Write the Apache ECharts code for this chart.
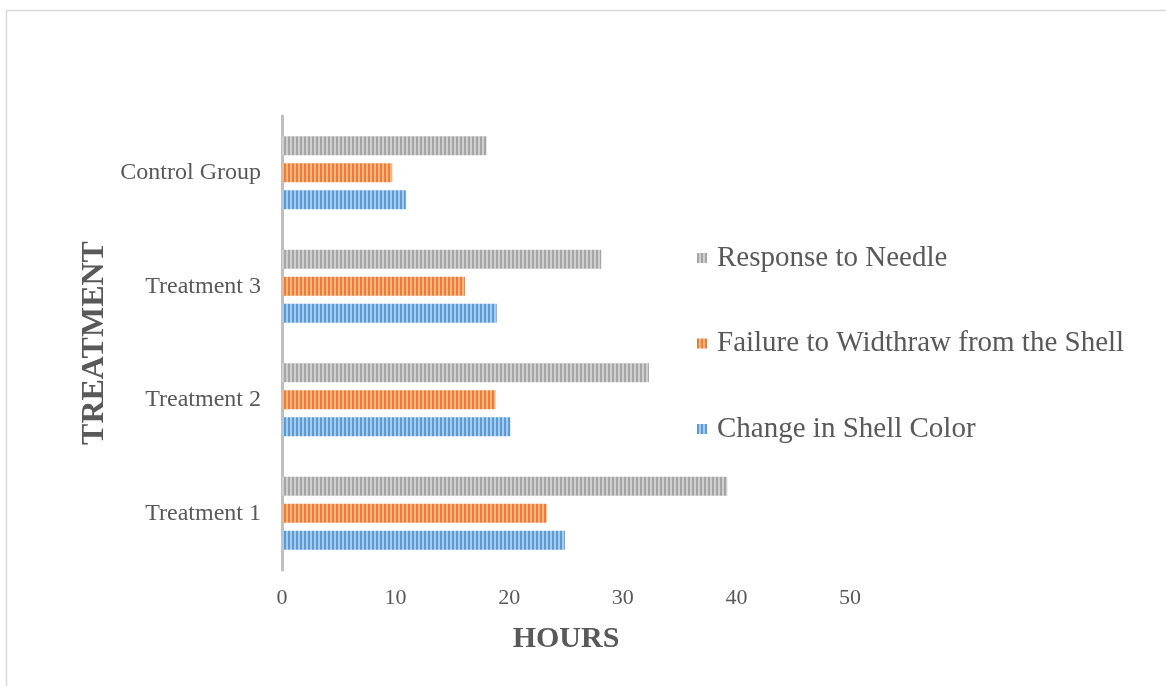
<!DOCTYPE html>
<html>
<head>
<meta charset="utf-8">
<script src="https://cdn.jsdelivr.net/npm/echarts@6/dist/echarts.min.js"></script>
<style>
  html, body { margin: 0; padding: 0; background: #fff; }
  #chart { width: 1166px; height: 686px; }
</style>
</head>
<body>
<div id="chart"></div>
<script>
// Treatment groups (bottom to top on the category axis)
const categories = ['Treatment 1', 'Treatment 2', 'Treatment 3', 'Control Group'];

// Hours until each response was observed
const changeInShellColor = [24.9, 20.1, 18.9, 10.9];
const failureToWithdraw = [23.3, 18.8, 16.1, 9.7];
const responseToNeedle = [39.2, 32.3, 28.1, 18.0];

const xTicks = [0, 10, 20, 30, 40, 50];

// Vertical-stripe fill: 2px dark stripe, 2px light stripe
function stripes(dark, light) {
  const c = document.createElement('canvas');
  c.width = 4; c.height = 4;
  const g = c.getContext('2d');
  g.fillStyle = dark; g.fillRect(0, 0, 4, 4);
  g.fillStyle = light; g.fillRect(2, 0, 2, 4);
  return { image: c, repeat: 'repeat' };
}

// Series listed top-to-bottom within each group
const seriesDefs = [
  { name: 'Response to Needle', data: responseToNeedle, fill: stripes('#A5A5A5', '#CFCFCF') },
  { name: 'Failure to Widthraw from the Shell', data: failureToWithdraw, fill: stripes('#ED7D31', '#F5B58A') },
  { name: 'Change in Shell Color', data: changeInShellColor, fill: stripes('#5B9BD5', '#A9CBEB') }
];

const serif = '"Liberation Serif", "Times New Roman", serif';
const textColor = '#595959';

const chart = echarts.init(document.getElementById('chart'), null, { renderer: 'canvas' });

chart.setOption({
  animation: false,
  backgroundColor: '#fff',
  graphic: [{
    type: 'rect',
    shape: { x: 6.5, y: 10.5, width: 1200, height: 720 },
    style: { fill: 'none', stroke: '#D9D9D9', lineWidth: 1.5 },
    silent: true
  }],
  grid: { left: 282, right: 316, top: 116, bottom: 116, containLabel: false },
  legend: {
    orient: 'vertical',
    left: 697,
    top: 243,
    padding: 0,
    itemWidth: 10,
    itemHeight: 10,
    itemGap: 55.5,
    data: seriesDefs.map(s => s.name),
    textStyle: {
      fontFamily: serif,
      fontSize: 29,
      color: textColor,
      lineHeight: 30,
      padding: [0, 0, 0, 5]
    },
    icon: 'rect'
  },
  xAxis: {
    type: 'value',
    min: xTicks[0],
    max: xTicks[xTicks.length - 1],
    interval: 10,
    splitLine: { show: false },
    axisLine: { show: false },
    axisTick: { show: false },
    axisLabel: {
      fontFamily: serif, fontSize: 22, color: textColor, margin: 17,
      formatter: v => xTicks.includes(v) ? String(v) : ''
    },
    name: 'HOURS',
    nameLocation: 'middle',
    nameGap: 54,
    nameTextStyle: { fontFamily: serif, fontSize: 30, fontWeight: 'bold', color: textColor }
  },
  yAxis: {
    type: 'category',
    data: categories,
    axisLine: { show: true, lineStyle: { color: '#BFBFBF', width: 3 } },
    axisTick: { show: false },
    axisLabel: { fontFamily: serif, fontSize: 24, color: textColor, margin: 21 },
    name: 'TREATMENT',
    nameLocation: 'middle',
    nameGap: 171,
    nameRotate: 90,
    nameTextStyle: { fontFamily: serif, fontSize: 32, fontWeight: 'bold', color: textColor }
  },
  series: seriesDefs.map(s => ({
    name: s.name,
    type: 'bar',
    data: s.data,
    barWidth: 19,
    barGap: '42%',
    itemStyle: { color: s.fill }
  }))
});
</script>
</body>
</html>
